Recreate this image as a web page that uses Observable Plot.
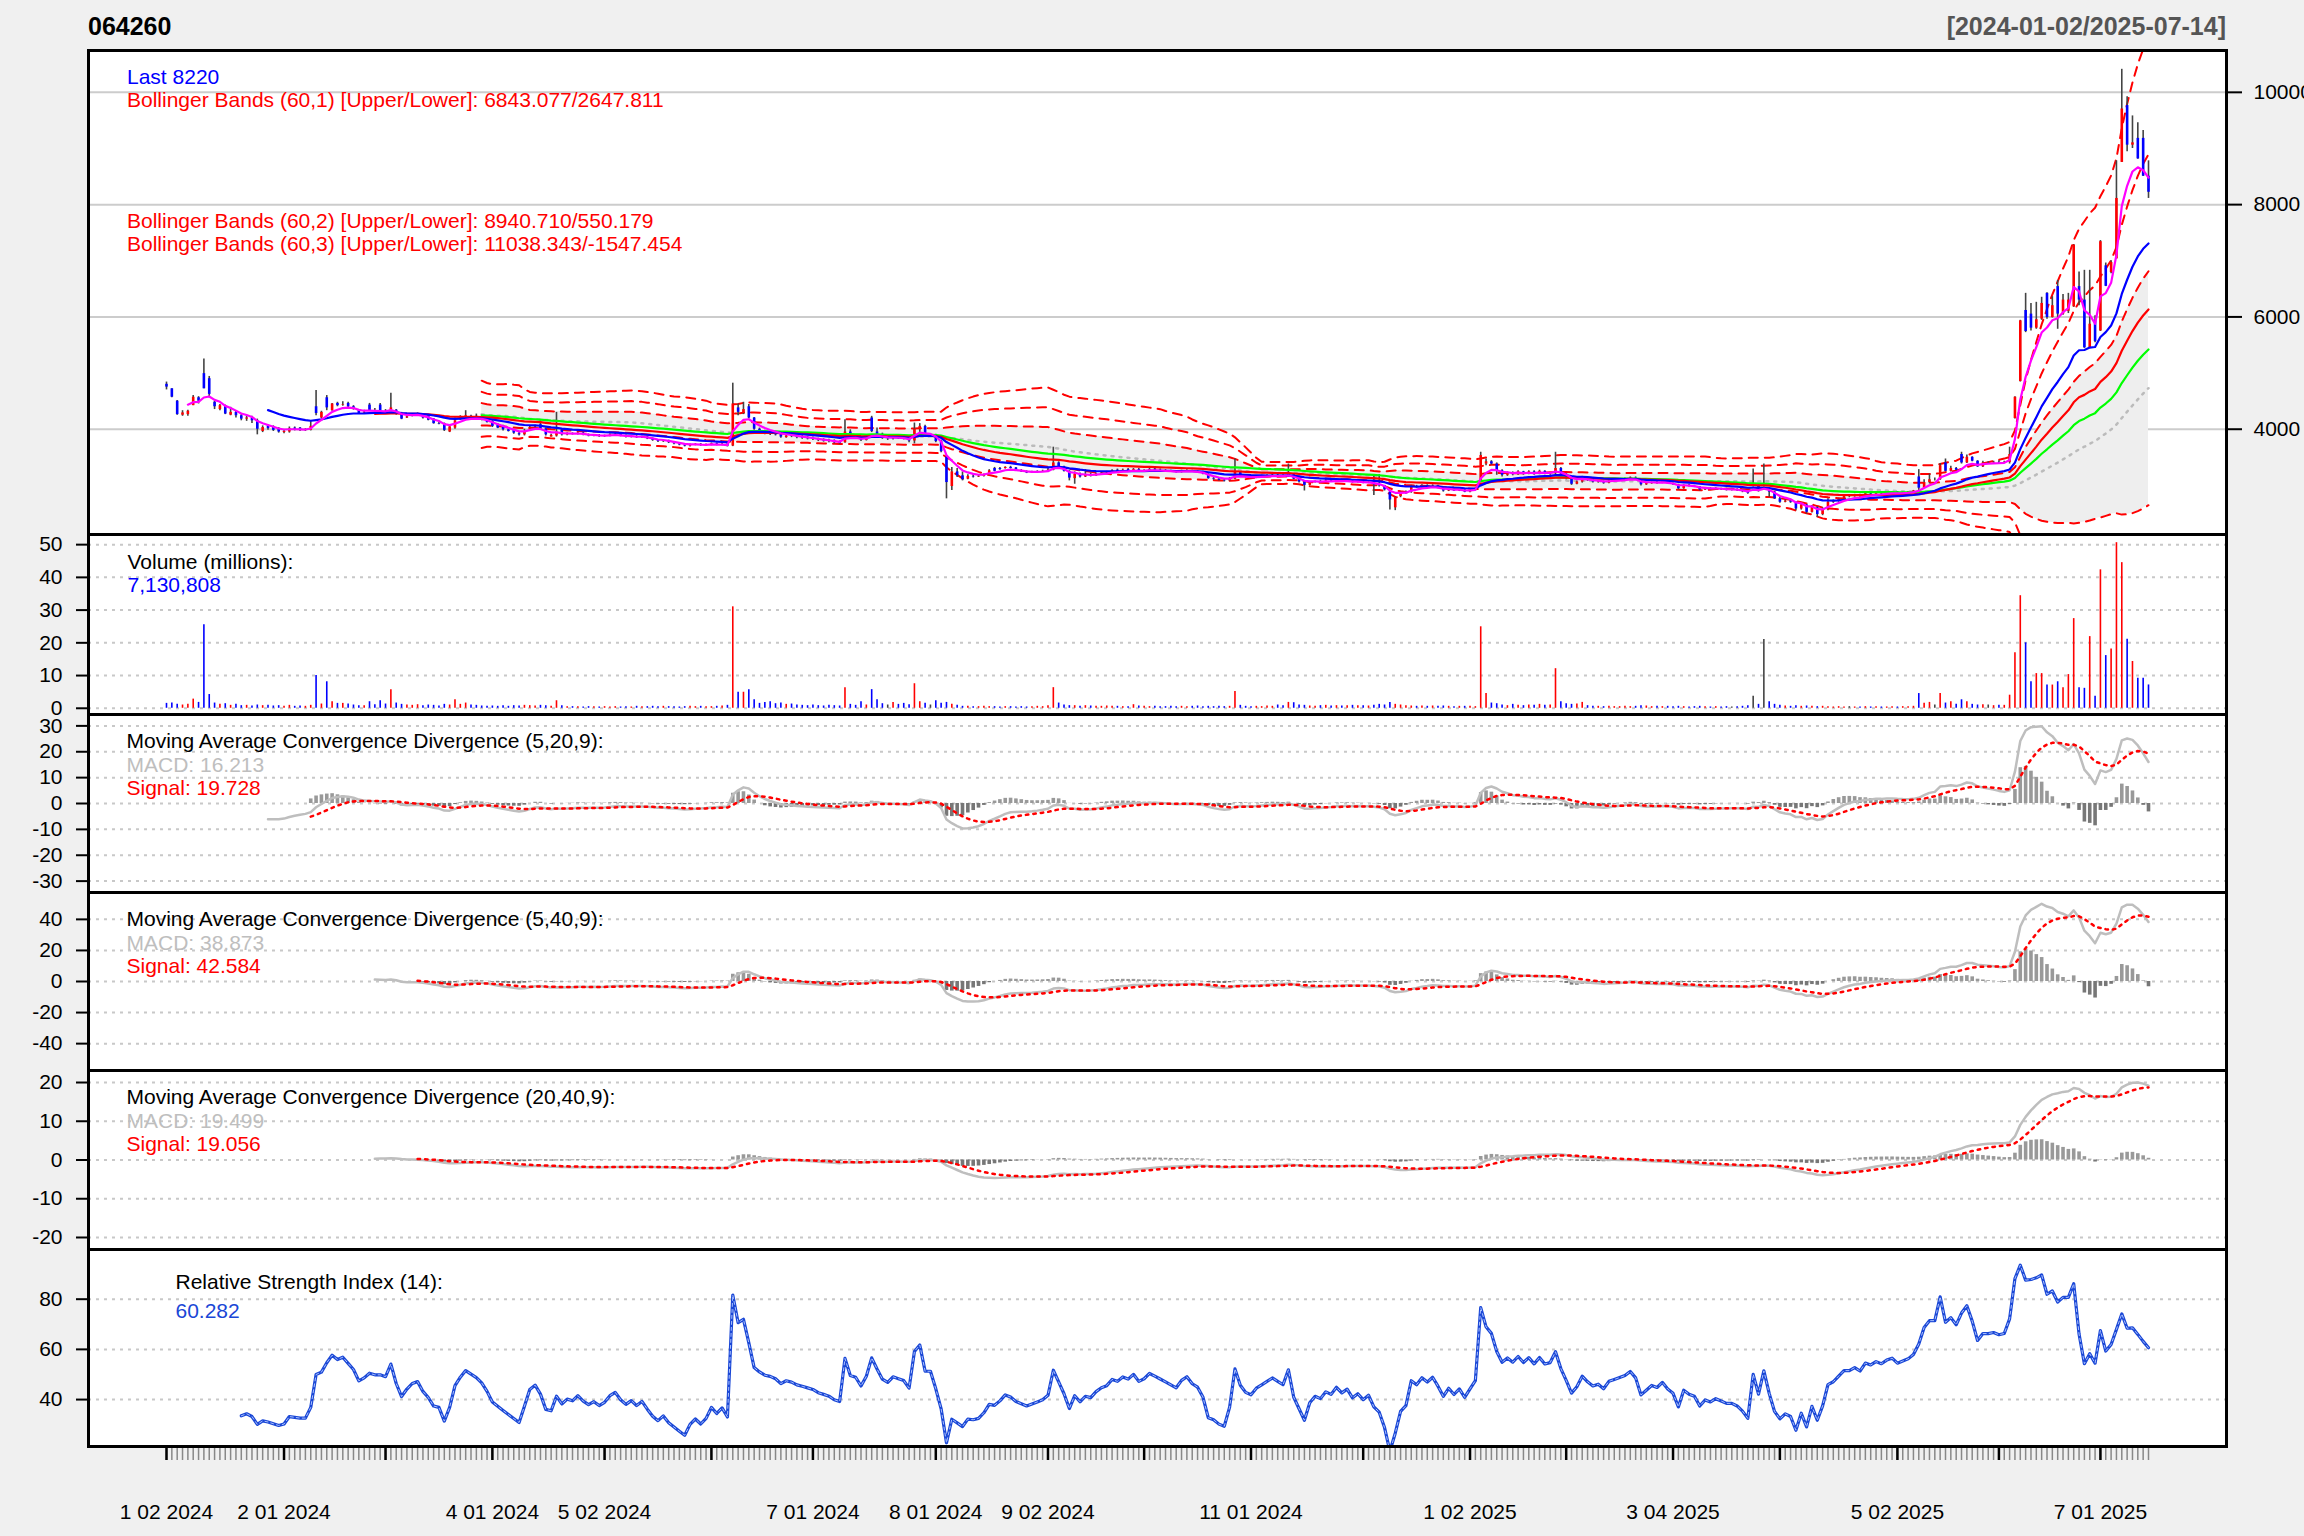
<!DOCTYPE html>
<html><head><meta charset="utf-8">
<script src="https://cdn.jsdelivr.net/npm/d3@7"></script>
<script src="https://cdn.jsdelivr.net/npm/@observablehq/plot@0.6"></script>
<style>
body{margin:0;background:#F0F0F0;}
#wrap{position:relative;width:2304px;height:1536px;overflow:hidden;background:#F0F0F0;font-family:"Liberation Sans",Arial,sans-serif;}
.panel{position:absolute;left:0;}
.panel svg{overflow:visible;}
#title{position:absolute;left:88px;top:14px;font-weight:bold;font-size:25px;line-height:25px;color:#000;}
#range{position:absolute;right:78px;top:14px;font-weight:bold;font-size:25px;line-height:25px;color:#555;}
</style></head><body>
<div id="wrap"><div id="title"></div><div id="range"></div></div>
<script>
// ---------------- DATA ----------------
const titleText = "064260";
const rangeText = "[2024-01-02/2025-07-14]";
const priceLegend = ["Last 8220",
 "Bollinger Bands (60,1) [Upper/Lower]: 6843.077/2647.811",
 "Bollinger Bands (60,2) [Upper/Lower]: 8940.710/550.179",
 "Bollinger Bands (60,3) [Upper/Lower]: 11038.343/-1547.454"];
const volumeLegend = ["Volume (millions):", "7,130,808"];
const macdLegend = [
 ["Moving Average Convergence Divergence (5,20,9):", "MACD: 16.213", "Signal: 19.728"],
 ["Moving Average Convergence Divergence (5,40,9):", "MACD: 38.873", "Signal: 42.584"],
 ["Moving Average Convergence Divergence (20,40,9):", "MACD: 19.499", "Signal: 19.056"]];
const rsiLegend = ["Relative Strength Index (14):", "60.282"];
const labelIdx = [0,22,61,82,121,144,165,203,244,282,324,362];
const labelText = ["1 02 2024","2 01 2024","4 01 2024","5 02 2024","7 01 2024","8 01 2024","9 02 2024","11 01 2024","1 02 2025","3 04 2025","5 02 2025","7 01 2025"];
const monthIdx = [0,22,41,61,82,102,121,144,165,183,203,224,244,262,282,302,324,343,362];
const priceTicks = [4000,6000,8000,10000];
const volumeTicks = [0,10,20,30,40,50];
const macdTicks = [[-30,-20,-10,0,10,20,30],[-40,-20,0,20,40],[-20,-10,0,10,20]];
const rsiTicks = [40,60,80];
const macdParams = [[5,20,9],[5,40,9],[20,40,9]];

const open = [
4800,4720,4500,4250,4260,4420,4560,4990,4900,4480,
4350,4420,4250,4300,4240,4180,4200,4150,3960,4060,
4040,4000,3940,3950,4020,4020,3980,3980,4400,4200,
4560,4330,4460,4430,4460,4400,4350,4290,4430,4330,
4430,4320,4330,4340,4280,4200,4240,4240,4230,4230,
4180,4100,4100,3950,4020,4170,4210,4230,4230,4200,
4200,4140,4080,4060,3990,3990,3920,3900,3990,4040,
4080,4000,3860,3880,3980,3900,3920,3910,3930,3900,
3880,3890,3870,3880,3900,3910,3880,3860,3870,3850,
3860,3830,3800,3780,3790,3760,3740,3720,3700,3720,
3730,3710,3720,3740,3720,3730,3700,4380,4280,4400,
4200,4000,3950,3940,3920,3910,3850,3890,3870,3870,
3850,3840,3830,3810,3800,3790,3770,3760,3950,3860,
3850,3800,4200,3950,3910,3820,3830,3860,3840,3850,
3790,3990,4050,3900,3900,3780,3500,2980,3240,3170,
3110,3160,3150,3160,3200,3300,3300,3300,3320,3310,
3260,3240,3220,3230,3240,3250,3270,3400,3330,3250,
3120,3200,3150,3190,3170,3200,3220,3230,3270,3250,
3280,3260,3280,3250,3260,3290,3270,3260,3250,3240,
3230,3250,3260,3240,3230,3200,3120,3110,3090,3080,
3110,3230,3170,3140,3130,3150,3160,3170,3180,3170,
3160,3200,3110,3060,3000,3050,3070,3060,3080,3070,
3090,3070,3080,3050,3060,3040,3050,3010,2990,2880,
2600,2800,2860,2880,2980,2960,2990,2970,2990,2950,
2900,2930,2900,2920,2880,2910,3050,3380,3420,3380,
3260,3180,3220,3190,3240,3200,3240,3200,3250,3210,
3220,3300,3200,3120,3020,3060,3130,3090,3060,3070,
3040,3080,3090,3100,3110,3130,3100,3010,3030,3050,
3040,3060,3030,3010,2940,3000,2980,2970,2920,2940,
2930,2940,2930,2920,2920,2910,2890,2980,2990,2990,
2900,2880,2760,2700,2720,2700,2580,2650,2520,2600,
2480,2560,2700,2720,2760,2800,2800,2820,2800,2850,
2840,2860,2850,2870,2880,2860,2870,2880,3150,2950,
3050,3100,3100,3400,3250,3300,3550,3400,3500,3430,
3330,3400,3400,3410,3400,3410,4190,4850,6115,6050,
5800,5960,6420,5990,6540,6050,6100,6180,6540,6300,
5450,5930,5750,6910,6790,7035,8752,9764,9059,9180,
9180,8507];
const high = [
4840,4720,4510,4330,4340,4600,4580,5250,4940,4500,
4440,4430,4390,4320,4260,4230,4230,4180,4060,4080,
4060,4030,3990,4040,4040,4030,4010,4150,4690,4320,
4600,4460,4480,4490,4480,4420,4350,4340,4460,4370,
4460,4350,4640,4350,4300,4250,4280,4290,4250,4240,
4190,4120,4110,4050,4200,4240,4330,4250,4270,4230,
4210,4150,4100,4070,4020,4000,3960,4000,4060,4070,
4150,4020,3910,4300,3990,3935,3935,3945,3945,3915,
3905,3905,3895,3915,3925,3925,3895,3885,3885,3875,
3875,3845,3815,3805,3805,3775,3755,3735,3735,3745,
3745,3735,3755,3755,3745,3745,4820,4450,4480,4440,
4210,4020,3980,3970,3940,3920,3890,3910,3890,3890,
3870,3860,3840,3830,3820,3810,3790,4170,3990,3880,
3870,3880,4230,4020,3930,3850,3880,3880,3860,3860,
4110,4100,4070,3920,3910,3800,3530,3320,3300,3240,
3190,3190,3180,3200,3280,3320,3320,3330,3340,3320,
3280,3260,3250,3260,3270,3300,3680,3420,3340,3260,
3240,3220,3280,3220,3220,3240,3250,3280,3290,3290,
3300,3300,3300,3280,3300,3300,3290,3280,3270,3260,
3270,3280,3270,3260,3250,3210,3140,3130,3110,3140,
3470,3240,3190,3160,3170,3180,3190,3200,3200,3190,
3380,3210,3120,3080,3070,3080,3090,3100,3100,3110,
3100,3100,3090,3080,3070,3070,3180,3190,3000,2900,
2800,2880,2900,3000,3000,3010,3010,3010,3000,2960,
2950,2940,2930,2930,2920,2950,3590,3470,3440,3400,
3280,3240,3240,3260,3250,3260,3260,3270,3260,3230,
3590,3320,3210,3140,3080,3160,3140,3100,3090,3080,
3100,3110,3120,3130,3150,3150,3120,3050,3060,3070,
3070,3070,3040,3020,3010,3020,3000,2980,2960,2960,
2960,2950,2950,2940,2940,2920,2900,3290,3010,3380,
2910,2890,2790,2740,2740,2710,2670,2660,2640,2620,
2600,2760,2740,2770,2810,2820,2840,2840,2860,2870,
2870,2880,2880,2890,2890,2880,2890,2910,3280,3100,
3200,3130,3390,3470,3340,3320,3590,3540,3510,3440,
3430,3420,3430,3440,3430,3680,4580,5940,6420,6240,
6260,6350,6430,6360,6650,6400,6420,7290,6800,6830,
6830,6020,7360,6960,7000,8780,10410,9920,9580,9460,
9320,8780];
const low = [
4700,4560,4250,4230,4230,4420,4450,4720,4560,4350,
4330,4260,4240,4200,4150,4140,4100,3900,3940,3980,
3960,3930,3920,3930,3970,3960,3960,3970,4240,4190,
4330,4320,4400,4410,4380,4340,4270,4270,4320,4300,
4310,4280,4330,4250,4170,4190,4220,4230,4180,4150,
4090,4080,3960,3940,4000,4160,4200,4200,4180,4150,
4110,4030,4010,3970,3950,3910,3880,3880,3970,4020,
3980,3880,3860,3860,3880,3885,3895,3895,3885,3865,
3865,3855,3855,3865,3885,3865,3845,3845,3835,3835,
3815,3785,3765,3765,3745,3725,3705,3685,3685,3705,
3695,3695,3705,3705,3705,3685,3690,4240,4260,4180,
3980,3940,3900,3890,3880,3840,3840,3850,3830,3820,
3810,3800,3780,3770,3760,3740,3730,3750,3840,3820,
3780,3790,3940,3880,3820,3800,3810,3820,3810,3760,
3740,3900,3880,3880,3760,3580,2760,2910,3140,3080,
3100,3130,3140,3150,3190,3240,3270,3290,3290,3250,
3230,3210,3210,3220,3230,3240,3260,3300,3240,3080,
3020,3130,3140,3150,3160,3190,3210,3220,3240,3240,
3250,3250,3240,3240,3250,3260,3250,3240,3230,3220,
3220,3240,3230,3220,3190,3110,3090,3080,3060,3070,
3100,3160,3130,3120,3120,3140,3150,3160,3160,3150,
3150,3100,3040,2900,2990,3040,3040,3050,3060,3060,
3060,3060,3040,3040,3030,3030,2820,2970,2900,2560,
2550,2780,2840,2860,2950,2950,2960,2960,2940,2880,
2890,2890,2890,2870,2870,2900,3050,3350,3360,3180,
3150,3160,3170,3180,3180,3190,3180,3190,3190,3180,
3180,3180,3100,3000,3010,3040,3070,3040,3040,3020,
3030,3060,3070,3080,3100,3090,2990,3000,3020,3020,
3030,3020,3000,2920,2930,2970,2960,2900,2910,2910,
2920,2910,2900,2900,2890,2870,2840,2970,2880,2970,
2790,2750,2680,2690,2680,2550,2560,2490,2510,2430,
2460,2550,2680,2700,2740,2780,2790,2790,2790,2820,
2830,2840,2840,2860,2850,2850,2860,2870,2910,2940,
3030,3080,3090,3240,3240,3260,3380,3390,3420,3320,
3320,3380,3390,3390,3390,3380,4180,4840,5720,5750,
5780,5940,5960,5980,5780,6030,6060,6170,6200,5440,
5440,5540,5740,6540,6770,7030,8750,8940,9000,8810,
8500,8110];
const close = [
4750,4570,4260,4290,4320,4570,4500,4720,4620,4400,
4420,4270,4300,4240,4180,4200,4150,4000,4030,4010,
3980,3950,3960,4010,4000,3990,3990,4050,4280,4300,
4380,4450,4420,4440,4400,4360,4280,4300,4330,4320,
4320,4310,4380,4270,4180,4220,4250,4260,4200,4160,
4100,4090,3980,4040,4150,4200,4240,4220,4200,4170,
4120,4050,4020,3990,3960,3930,3900,3960,4030,4050,
4000,3900,3890,3950,3900,3920,3910,3930,3900,3880,
3890,3870,3880,3900,3910,3880,3860,3870,3850,3860,
3830,3800,3780,3790,3760,3740,3720,3700,3720,3730,
3710,3720,3740,3720,3730,3700,4450,4300,4350,4200,
4000,3960,3930,3920,3900,3860,3880,3870,3850,3840,
3830,3820,3800,3790,3780,3760,3750,3950,3860,3850,
3800,3850,3960,3900,3840,3820,3850,3840,3830,3790,
4000,4050,3900,3900,3780,3600,3050,3240,3170,3100,
3160,3150,3160,3200,3260,3250,3280,3320,3300,3260,
3240,3220,3230,3240,3250,3270,3400,3330,3250,3130,
3200,3150,3180,3170,3200,3220,3230,3260,3250,3270,
3260,3280,3250,3260,3280,3270,3260,3250,3240,3230,
3250,3260,3240,3230,3200,3120,3110,3090,3080,3120,
3230,3170,3140,3130,3150,3160,3170,3180,3170,3160,
3200,3110,3060,3000,3050,3070,3060,3080,3070,3090,
3070,3080,3050,3060,3040,3050,3010,2990,2920,2740,
2790,2860,2880,2980,2960,2990,2970,2990,2950,2900,
2930,2900,2920,2880,2910,2940,3530,3420,3380,3260,
3180,3220,3190,3240,3200,3240,3200,3250,3210,3220,
3300,3200,3120,3020,3060,3130,3090,3060,3070,3040,
3080,3090,3100,3110,3130,3100,3010,3030,3050,3040,
3060,3030,3010,2940,3000,2980,2970,2920,2940,2930,
2940,2930,2920,2920,2910,2890,2860,2980,2900,2990,
2880,2760,2700,2720,2700,2580,2650,2520,2620,2480,
2560,2700,2720,2760,2800,2800,2820,2800,2850,2840,
2860,2850,2870,2880,2860,2870,2880,2900,2950,3050,
3100,3100,3350,3250,3300,3270,3400,3500,3430,3330,
3400,3400,3410,3400,3410,3550,4570,5930,5740,5800,
5950,6240,5990,6200,6050,6300,6300,7280,6300,5450,
5870,5560,7340,6545,6970,8110,9703,9059,9100,8814,
8507,8220];
const volume = [
1.5,1.6,1.2,1.0,1.2,2.8,1.8,25.5,4.2,1.6,
1.2,1.4,0.9,1.2,0.8,0.9,0.7,1.0,0.8,0.9,
0.7,0.8,0.6,0.9,0.6,0.7,0.6,0.9,10.0,1.3,
8.1,2.0,1.5,1.5,1.3,1.0,0.8,0.8,2.0,1.1,
2.3,1.3,5.7,1.6,1.2,1.0,0.9,1.1,0.8,1.0,
0.9,0.7,1.2,1.0,2.6,1.2,1.6,1.0,0.9,0.7,
0.6,0.7,0.6,0.8,0.6,0.8,0.7,0.9,0.8,0.7,
0.9,0.8,0.6,2.3,0.8,0.5,0.5,0.5,0.4,0.5,
0.5,0.4,0.5,0.4,0.5,0.4,0.5,0.4,0.6,0.5,
0.5,0.6,0.5,0.6,0.5,0.5,0.4,0.5,0.6,0.5,
0.6,0.5,0.5,0.6,0.7,0.9,31.0,4.9,4.9,5.7,
2.6,1.5,1.8,2.0,1.4,1.6,1.2,1.3,1.0,0.9,
0.8,1.0,0.8,0.7,0.9,0.8,0.7,6.3,1.2,0.9,
2.0,1.0,5.7,2.6,1.4,1.0,1.8,1.2,1.5,1.1,
7.5,2.0,1.5,1.0,2.3,1.5,1.8,1.2,0.9,0.6,
0.6,0.5,0.5,0.6,0.5,0.5,0.4,0.5,0.5,0.4,
0.5,0.4,0.5,0.6,0.5,0.8,6.3,1.6,1.0,0.8,
0.8,0.6,0.8,0.7,0.6,0.6,0.7,0.6,0.6,0.5,
0.5,1.1,0.7,0.6,0.5,0.6,0.5,0.5,0.6,0.5,
0.6,0.5,0.6,0.7,0.5,0.6,0.5,0.6,0.5,0.6,
5.1,0.9,0.6,0.5,0.6,0.5,0.7,0.6,1.0,0.8,
1.8,1.7,1.0,0.9,0.7,0.6,0.8,0.9,0.7,0.8,
0.7,0.8,0.9,0.8,0.8,0.7,0.9,1.2,1.0,1.8,
1.2,1.0,0.8,0.7,0.6,0.7,0.6,0.7,0.6,0.7,
0.6,0.5,0.6,0.6,0.6,0.5,24.9,4.5,1.6,1.4,
1.0,0.8,1.2,0.9,0.8,1.0,0.9,1.2,0.9,1.0,
12.1,2.0,1.4,1.2,1.3,1.8,0.8,0.6,0.6,0.5,
0.6,0.5,0.5,0.6,0.5,0.6,0.8,0.7,0.5,0.6,
0.5,0.6,0.5,0.6,0.5,0.4,0.5,0.6,0.5,0.4,
0.5,0.4,0.5,0.4,0.5,0.6,0.8,3.7,1.2,21.0,
2.0,1.2,0.9,0.7,0.6,0.8,0.6,0.7,0.6,0.5,
0.6,0.5,0.4,0.5,0.4,0.5,0.4,0.4,0.5,0.4,
0.5,0.4,0.4,0.5,0.4,0.5,0.5,0.6,4.5,1.5,
1.8,1.0,4.5,1.6,2.0,1.2,2.6,2.0,1.2,1.0,
1.1,1.0,0.8,0.9,0.9,4.0,17.0,34.4,20.0,8.1,
10.6,10.6,7.1,7.1,8.1,6.3,10.3,27.4,6.3,6.1,
21.9,3.7,42.3,16.1,18.1,50.6,44.5,21.1,14.3,9.2,
9.2,7.130808];

// ---------------- derived indicators (as the original chart computes them) ----------------
const N = close.length;
const idx = d3.range(N);
const bars = idx.map(i => ({i, open: open[i], high: high[i], low: low[i], close: close[i], volume: volume[i],
  col: close[i] > open[i] ? "#FF0000" : close[i] < open[i] ? "#0000FF" : "#444444"}));

function ma(x, n, wilder) {
  const out = new Array(x.length).fill(null);
  const s = x.findIndex(v => v != null);
  if (s < 0 || s + n - 1 >= x.length) return out;
  let prev = d3.mean(x.slice(s, s + n));
  out[s + n - 1] = prev;
  const a = wilder ? 1 / n : 2 / (n + 1);
  for (let k = s + n; k < x.length; k++) { prev = prev + a * (x[k] - prev); out[k] = prev; }
  return out;
}
const emaRows = n => { const e = ma(close, n); return idx.filter(i => e[i] != null).map(i => ({i, v: e[i]})); };

const tp = idx.map(i => (high[i] + low[i] + close[i]) / 3);
const bb = [];
for (let i = 59; i < N; i++) {
  const w = tp.slice(i - 59, i + 1), m = d3.mean(w);
  bb.push({i, mid: m, sd: Math.sqrt(d3.mean(w, v => (v - m) ** 2))});
}
function macdRows([f, s, g]) {
  const ef = ma(close, f), es = ma(close, s);
  const m = idx.map(i => ef[i] != null && es[i] != null ? 100 * (ef[i] / es[i] - 1) : null);
  const sig = ma(m, g);
  return idx.filter(i => m[i] != null).map(i => ({i, macd: m[i], signal: sig[i], hist: sig[i] == null ? null : m[i] - sig[i]}));
}
const up = idx.map(i => i === 0 ? null : Math.max(close[i] - close[i - 1], 0));
const dn = idx.map(i => i === 0 ? null : Math.max(close[i - 1] - close[i], 0));
const au = ma(up, 14, true), ad = ma(dn, 14, true);
const rsi = idx.filter(i => au[i] != null).map(i => ({i, v: 100 * au[i] / (au[i] + ad[i])}));

// ---------------- layout ----------------
const wrap = document.getElementById("wrap");
document.getElementById("title").textContent = titleText;
document.getElementById("range").textContent = rangeText;
const W = 2304, ML = 88, MR = 78;
const xDom = [-14.6, 385.6];
const FONT = "Liberation Sans, Arial, sans-serif";
const fmt = d => String(d);
const grid = ticks => Plot.ruleY(ticks, {stroke: "#C8C8C8", strokeWidth: 2, strokeDasharray: "3,5"});
const leftAxis = ticks => Plot.axisY(ticks, {anchor: "left", tickSize: 12, tickPadding: 14, tickFormat: fmt, label: null, strokeWidth: 2, fontSize: 21});
const label = (txt, dx, dy, fill) => Plot.text([txt], {frameAnchor: "top-left", text: d => d, dx, dy, fill, textAnchor: "start", lineAnchor: "middle", fontSize: 21});

function addPanel(top, height, yDomain, marks, xAxis, mb = 0) {
  const p = Plot.plot({
    width: W, height, marginLeft: ML, marginRight: MR, marginTop: 0, marginBottom: mb,
    x: xAxis ? {domain: xDom} : {domain: xDom, axis: null},
    y: {domain: yDomain},
    style: {background: "transparent", fontFamily: FONT, fontSize: "21px", overflow: "visible", color: "#000"},
    marks: [Plot.frame({fill: "white"}), ...marks, Plot.frame({stroke: "black", strokeWidth: 3})]
  });
  const d = document.createElement("div");
  d.className = "panel"; d.style.top = top + "px";
  d.appendChild(p); wrap.appendChild(d);
}

// price panel
const bandLines = [];
for (const k of [1, 2, 3]) {
  bandLines.push(Plot.lineY(bb, {x: "i", y: d => d.mid + k * d.sd, stroke: "#FF0000", strokeWidth: 2, strokeDasharray: "9,7", clip: true}));
  bandLines.push(Plot.lineY(bb, {x: "i", y: d => d.mid - k * d.sd, stroke: "#FF0000", strokeWidth: 2, strokeDasharray: "9,7", clip: true}));
}
addPanel(50, 484, [2125, 10745], [
  Plot.ruleY(priceTicks, {stroke: "#CCCCCC", strokeWidth: 2}),
  Plot.areaY(bb, {x: "i", y1: d => d.mid - d.sd, y2: d => d.mid + d.sd, fill: "#EEEEEE", clip: true}),
  ...bandLines,
  Plot.lineY(bb, {x: "i", y: "mid", stroke: "#BBBBBB", strokeWidth: 2.5, strokeDasharray: "2,6", clip: true}),
  Plot.ruleX(bars, {x: "i", y1: "low", y2: "high", stroke: "#444444", strokeWidth: 1.6, clip: true}),
  Plot.ruleX(bars.filter(d => d.open !== d.close), {x: "i", y1: "open", y2: "close", stroke: "col", strokeWidth: 2.6, clip: true}),
  Plot.lineY(emaRows(60), {x: "i", y: "v", stroke: "#00FF00", strokeWidth: 2.2, clip: true}),
  Plot.lineY(emaRows(40), {x: "i", y: "v", stroke: "#FF0000", strokeWidth: 2.2, clip: true}),
  Plot.lineY(emaRows(20), {x: "i", y: "v", stroke: "#0000FF", strokeWidth: 2.2, clip: true}),
  Plot.lineY(emaRows(5), {x: "i", y: "v", stroke: "#FF00FF", strokeWidth: 2.2, clip: true}),
  label(priceLegend[0], 38.5, 26.5, "#0000FF"),
  label(priceLegend[1], 38.5, 50, "#FF0000"),
  label(priceLegend[2], 38.5, 170.5, "#FF0000"),
  label(priceLegend[3], 38.5, 194, "#FF0000"),
  Plot.axisY(priceTicks, {anchor: "right", tickSize: 15, tickPadding: 12, tickFormat: fmt, label: null, strokeWidth: 2, fontSize: 21})
]);

// volume panel
addPanel(534, 180, [-1.9, 53.1], [
  grid(volumeTicks),
  Plot.ruleX(bars, {x: "i", y1: 0, y2: "volume", stroke: "col", strokeWidth: 1.6}),
  label(volumeLegend[0], 39, 27.3, "#000"),
  label(volumeLegend[1], 39, 50.8, "#0000FF"),
  leftAxis(volumeTicks)
]);

// MACD panels
const macdTops = [714, 892, 1070], macdHeights = [178, 178, 179];
const macdDomains = [[-34.4, 34.4], [-57.3, 57.3], [-23.1, 23.1]];
macdParams.forEach((p, j) => {
  const rows = macdRows(p);
  const h = rows.filter(d => d.hist != null);
  addPanel(macdTops[j], macdHeights[j], macdDomains[j], [
    grid(macdTicks[j]),
    Plot.ruleX(h, {x: "i", y1: 0, y2: "hist", stroke: d => d.hist >= 0 ? "#999999" : "#777777", strokeWidth: 3.6, clip: true}),
    Plot.lineY(rows, {x: "i", y: "macd", stroke: "#BEBEBE", strokeWidth: 2.5, clip: true}),
    Plot.lineY(h, {x: "i", y: "signal", stroke: "#FF0000", strokeWidth: 2.5, strokeDasharray: "2.5,5", clip: true}),
    label(macdLegend[j][0], 38, 27, "#000"),
    label(macdLegend[j][1], 38, 50.5, "#BEBEBE"),
    label(macdLegend[j][2], 38, 74, "#FF0000"),
    leftAxis(macdTicks[j])
  ]);
});

// RSI panel + date axis
addPanel(1249, 287, [21.3, 99.8], [
  grid(rsiTicks),
  Plot.lineY(rsi, {x: "i", y: "v", stroke: "#1a47d6", strokeWidth: 3.2, clip: true}),
  Plot.lineY(rsi, {x: "i", y: "v", stroke: "#a9c0ff", strokeWidth: 1, strokeDasharray: "3,3", clip: true}),
  label(rsiLegend[0], 87, 32.3, "#000"),
  label(rsiLegend[1], 87, 61.7, "#1a47d6"),
  leftAxis(rsiTicks),
  Plot.axisX(idx, {tickSize: 14, tickFormat: () => "", stroke: "#888888", strokeWidth: 1.5, label: null}),
  Plot.axisX(monthIdx, {tickSize: 14, tickFormat: () => "", stroke: "#000", strokeWidth: 2.5, label: null}),
  Plot.axisX(labelIdx, {tickSize: 0, tickPadding: 58, tickFormat: d => labelText[labelIdx.indexOf(d)], label: null, fontSize: 21})
], true, 90);
</script>
</body></html>
